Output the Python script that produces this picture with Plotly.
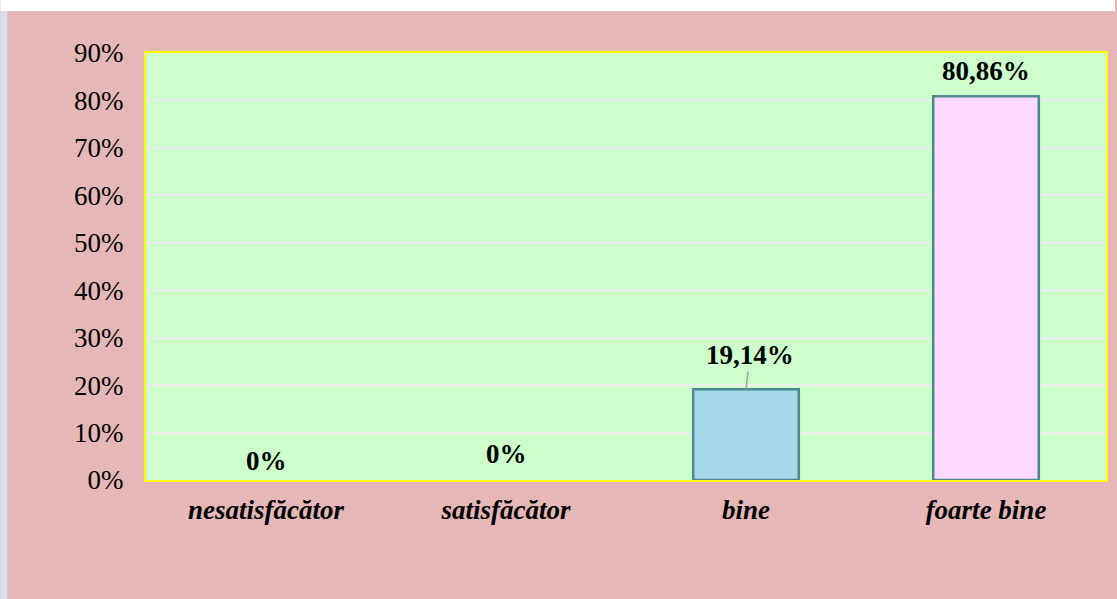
import plotly.graph_objects as go

categories = ["nesatisfăcător", "satisfăcător", "bine", "foarte bine"]
values = [0, 0, 19.14, 80.86]
labels = ["0%", "0%", "19,14%", "80,86%"]
bar_colors = ["#A3D9E8", "#A3D9E8", "#A3D9E8", "#FFD9FF"]
y_ticks = [0, 10, 20, 30, 40, 50, 60, 70, 80, 90]

PINK = "#E5B8B7"
GREEN = "#CCFFCC"
FONT = "Liberation Serif"

fig = go.Figure()
fig.add_trace(go.Bar(
    x=categories, y=values,
    marker=dict(color=bar_colors,
                line=dict(color="#4E8790", width=[0 if v == 0 else 2.5 for v in values])),
    width=0.44,
    hoverinfo="skip",
))

# data labels
shifts = [2, 9, None, 8]
for cat, val, lab, sh in zip(categories, values, labels, shifts):
    if sh is None:
        fig.add_annotation(x=cat, y=val, text=f"<b>{lab}</b>", showarrow=True,
                           arrowhead=0, arrowwidth=1.5, arrowcolor="#A0A0A0",
                           ax=4, ay=-34, font=dict(family=FONT, size=27, color="black"))
    else:
        fig.add_annotation(x=cat, y=val, text=f"<b>{lab}</b>", showarrow=False,
                           yanchor="bottom", yshift=sh,
                           font=dict(family=FONT, size=27, color="black"))

# decorative strips outside plot area (plot area: x 146..1108, y 53..480)
W = 962.0
H = 427.0
fig.add_shape(type="rect", xref="paper", yref="paper",
              x0=-146 / W, x1=(1117 - 146) / W, y0=(480 - 11) / H, y1=480 / H,
              fillcolor="white", line=dict(width=0), layer="above")
fig.add_shape(type="rect", xref="paper", yref="paper",
              x0=-146 / W, x1=-139 / W, y0=(480 - 599) / H, y1=(480 - 11) / H,
              fillcolor="#D6E0EE", line=dict(width=0), layer="above")

fig.update_layout(
    width=1117, height=599,
    margin=dict(l=146, r=9, t=53, b=119),
    paper_bgcolor=PINK, plot_bgcolor=GREEN,
    showlegend=False,
    xaxis=dict(
        showline=True, linecolor="#FFFF00", linewidth=2, mirror=True,
        showgrid=False, ticks="", ticklabelstandoff=5,
        tickfont=dict(family=FONT, size=27, color="black", weight="bold", style="italic"),
    ),
    yaxis=dict(
        range=[0, 90], tickvals=y_ticks, ticktext=[f"{v}%" for v in y_ticks],
        showline=True, linecolor="#FFFF00", linewidth=2, mirror=True,
        showgrid=True, gridcolor="#EDEDED", gridwidth=2,
        zeroline=False, ticks="", ticklabelstandoff=15,
        tickfont=dict(family=FONT, size=27, color="black"),
    ),
)

fig.write_html("out.html", config={"displayModeBar": False},
               post_script="document.body.style.margin='0';document.body.style.overflow='hidden';")
